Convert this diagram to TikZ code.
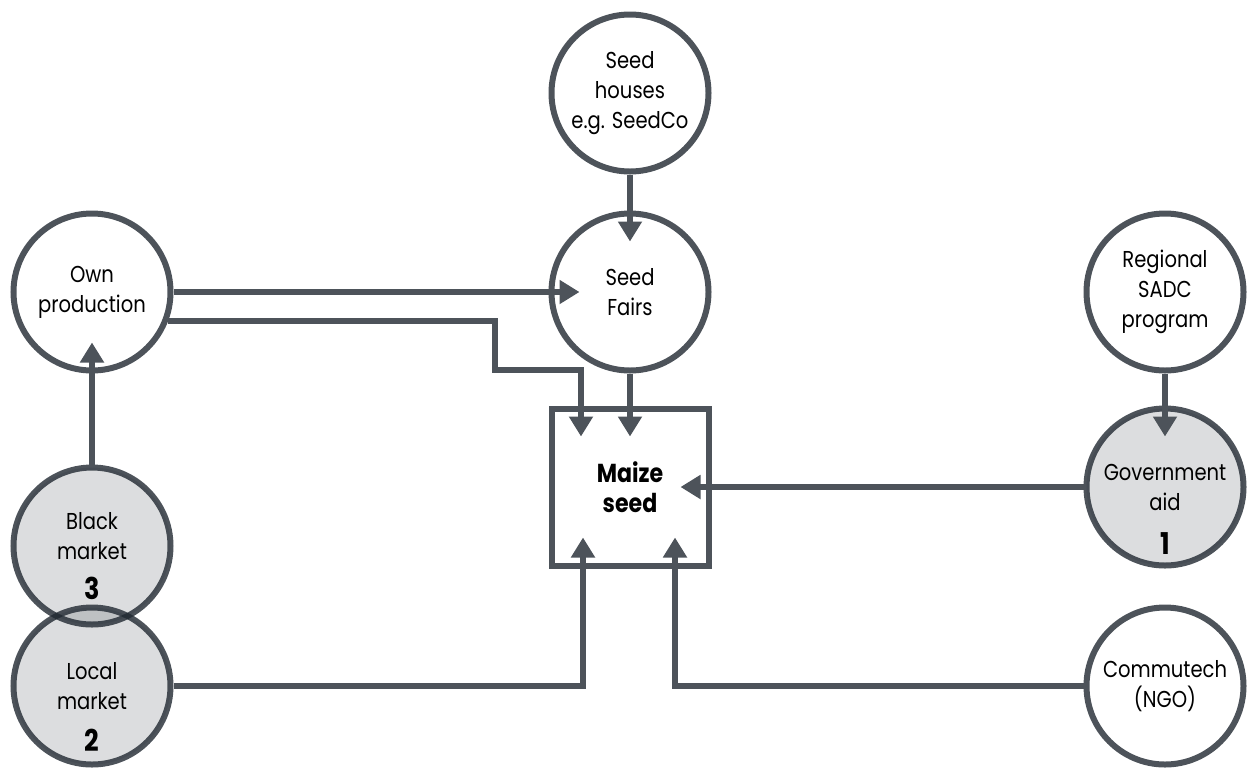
\documentclass[tikz,border=0pt]{standalone}
\usepackage{fontspec}
\setmainfont[FakeStretch=0.85]{Poppins}
\usetikzlibrary{arrows.meta}

\definecolor{edge}{HTML}{4D535A}
\definecolor{ink}{HTML}{202831}

\begin{document}
\begin{tikzpicture}[
  x=0.5pt, y=-0.5pt,
  font=\fontsize{11.5}{15}\selectfont,
  source/.style={circle, draw=edge, line width=3pt, minimum size=78.5pt, inner sep=0pt, align=center},
  market/.style={source, draw=ink, draw opacity=0.8, fill=ink, fill opacity=0.157, text opacity=1},
  rank/.style 2 args={label={[font=\fontsize{15}{15}\selectfont\bfseries, yshift=#2]center:#1}},
  flow/.style={draw=edge, line width=3pt, -{Triangle[length=10pt, width=11.5pt]}, shorten >=-15.5pt}]
\useasboundingbox (0,0) rectangle (1248,767);
\node[source] (houses) at (630,93) {Seed\\houses\\e.g. SeedCo};
\node[source] (fairs) at (630,292) {Seed\\Fairs};
\node[source] (own) at (92,292) {Own\\production};
\node[source] (regional) at (1165,292) {Regional\\SADC\\program};
\node[market, rank={3}{-21pt}, text depth=10pt] (black) at (92,546) {Black\\market};
\node[market, rank={2}{-27pt}] (local) at (92,686) {Local\\market};
\node[market, rank={1}{-28.5pt}] (gov) at (1165,487) {Government\\aid};
\node[source] (ngo) at (1165,686) {Commutech\\(NGO)};
\node[draw=edge, line width=3pt, minimum width=78.5pt, minimum height=78.5pt, align=center,
  font=\fontsize{13}{15}\selectfont\bfseries] (maize) at (630,487) {Maize\\seed};
\draw[flow] (houses) -- (fairs);
\draw[flow] (own) -- (fairs);
\draw[flow] (own.-21) -| (495,370) -| ([xshift=-24.5pt]maize.north);
\draw[flow] (fairs) -- (maize);
\draw[flow] (regional) -- (gov);
\draw[flow] (gov) -- (maize);
\draw[flow] (black) -- (own);
\draw[flow] (local) -| ([xshift=-23.5pt]maize.south);
\draw[flow] (ngo) -| ([xshift=22.5pt]maize.south);
\end{tikzpicture}
\end{document}
